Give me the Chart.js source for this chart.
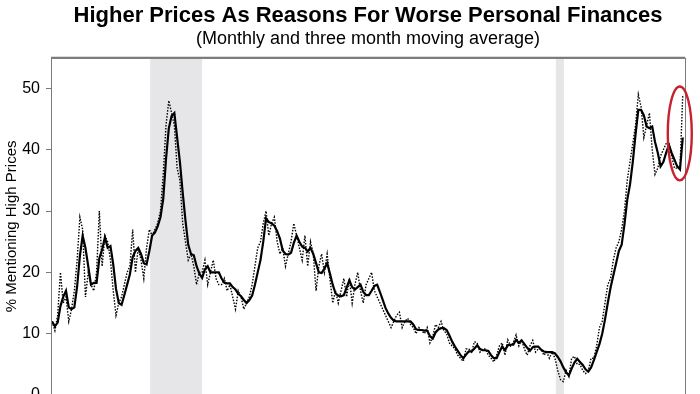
<!DOCTYPE html>
<html>
<head>
<meta charset="utf-8">
<script src="https://cdn.jsdelivr.net/npm/chart.js@4.4.0/dist/chart.umd.min.js"></script>
<style>
  html, body { margin: 0; padding: 0; background: #fff; overflow: hidden; }
  #wrap { width: 700px; height: 420px; }
</style>
</head>
<body>
<div id="wrap"><canvas id="chart" width="700" height="420"></canvas></div>
<script>
// months counted from the start of the survey window (index 0 = first month)
const monthly = [
  12, 10.5, 13, 20, 15, 16, 12, 14, 17, 22, 29, 27, 16, 20, 18, 17, 20, 30, 21, 26,
  25, 22, 17, 13, 15, 16, 18, 20, 21, 27, 20, 24, 22, 19, 24, 27, 26, 27,
  28, 30, 36, 44, 48, 46, 44, 37, 35, 28, 25, 22, 23, 21, 18, 20, 20, 22, 18, 20,
  22, 19, 18, 18, 19, 17, 18, 16, 14, 17, 16, 14, 15, 16, 18, 21, 24,
  25, 28, 30, 26, 28, 29, 25, 23, 24, 21, 23, 25, 28, 26, 24, 22, 26, 21, 25, 23,
  17, 21, 23, 20, 23, 19, 15, 17, 15, 17, 19, 16, 19, 15, 18, 20, 17, 15, 18, 19,
  20, 17, 16, 15, 14, 13, 12, 11, 12,
  13, 13.5, 11, 12, 12.5, 11.5, 11, 10, 11, 10.5, 10, 11, 8.5, 9.5, 11.5, 11, 12, 10.5,
  10, 8.5, 8, 7.5, 6.5, 6, 5.5, 7.5, 7.5, 7, 8.7, 8.5, 7, 7.5, 7.5, 6.5, 6, 5.4,
  6.5, 8, 8.5, 6.5, 9, 8, 8.5, 9.8, 8, 9, 7.5, 6.5, 8, 8.9, 7, 7.5, 7.5, 6.5,
  7, 6, 7, 6, 4, 2.5, 2.2, 4, 3, 6, 6.3, 5, 5, 4, 3.5, 4, 6,
  6, 8, 11, 12, 15, 18, 19, 22, 24, 25, 27, 30, 35, 38, 41, 44, 49, 47, 42, 44,
  46, 40, 36, 37, 39, 40, 41, 41, 39, 37, 37, 37, 49
];

const movingAvg = [
  12, 11.2, 11.8, 14.5, 16, 17, 14.3, 14, 14.3, 17.7, 22.7, 26, 24, 21, 18, 18.3, 18.3, 22.3, 23.7, 25.7,
  24, 24.3, 21.3, 17.3, 15, 14.7, 16.3, 18, 19.7, 22.5, 23.5, 24, 23, 21.5, 21.3, 23.5, 26, 26.5,
  27.5, 29, 32, 38.5, 43.5, 45.5, 46, 42, 38, 33, 28.5, 24.5, 23, 22.8, 21, 19.8, 19.1, 20.5,
  21, 20, 20, 20, 20, 19, 18.3, 18.2, 18.2, 17.6, 17.2, 16.5, 16.1, 15.5, 15, 15.5, 16.2, 18, 20,
  22, 25, 28.8, 28.2, 28, 27.6, 26.7, 25.5, 23.6, 23, 22.9, 23.2, 24.8, 26, 25, 24.2, 24, 23.4, 24, 23,
  21.5, 20, 19.9, 20.6, 21.5, 19.8, 18, 16.6, 16.2, 16.1, 16.3, 17.5, 18.7, 17.6, 17.2, 17.6, 18, 16.8,
  16.3, 16.3, 17, 17.8, 18, 16.8, 15.5, 14.2, 13.3, 12.6, 12.1,
  12, 12, 12, 12, 12, 12, 11.5, 10.7, 10.6, 10.6, 10.5, 10.5, 9.6, 9.2, 10.2, 10.7, 10.9, 10.9,
  10.6, 9.7, 8.7, 7.9, 7.2, 6.5, 6, 6.6, 7.1, 7.1, 7.6, 8.1, 7.5, 7.3, 7.3, 7.2, 6.5, 6,
  6, 7, 7.9, 7.3, 8.1, 8.2, 8.2, 9, 8.5, 8.9, 8.3, 7.7, 7.2, 7.8, 7.9, 7.9, 7.4, 7.1,
  7, 7, 7, 6.8, 6.2, 5.5, 4.5, 3.7, 3.2, 4.3, 5.3, 5.9, 5.4, 4.9, 4.2, 3.8, 4.5,
  5.7, 7, 8.3, 10, 12.3, 15, 17.5, 19.5, 21.5, 23.5, 24.5, 27.8, 31.8, 34.3, 38, 42.5, 46.5, 46.5, 45.6, 43.8,
  43.5, 43.8, 41.3, 39.5, 37.3, 38, 39.5, 40.8, 39.5, 38.4, 37.3, 36.8, 42
];

// recession periods, in month indices
const recessions = [[35.3, 54], [181.3, 184.2]];
const yTicks = [0, 10, 20, 30, 40, 50];

Chart.defaults.font.family = "'Liberation Sans', Arial, sans-serif";
Chart.defaults.color = '#000';

const toPoints = arr => arr.map((v, i) => ({ x: i, y: v }));

const recessionBands = {
  id: 'recessionBands',
  beforeDatasetsDraw(chart) {
    const { ctx, chartArea, scales } = chart;
    ctx.save();
    ctx.fillStyle = '#e6e6e8';
    recessions.forEach(([a, b]) => {
      const x1 = scales.x.getPixelForValue(a);
      const x2 = scales.x.getPixelForValue(b);
      ctx.fillRect(x1, chartArea.top, x2 - x1, chartArea.bottom - chartArea.top);
    });
    ctx.restore();
  }
};

const frame = {
  id: 'frame',
  afterDraw(chart) {
    const { ctx, chartArea } = chart;
    ctx.save();
    ctx.strokeStyle = '#7a7a7a';
    ctx.lineWidth = 1;
    ctx.strokeRect(chartArea.left + 0.5, chartArea.top + 0.5,
      chartArea.right - chartArea.left, chartArea.bottom - chartArea.top);
    ctx.lineWidth = 2;
    ctx.beginPath();
    ctx.moveTo(chartArea.left, chartArea.top);
    ctx.lineTo(chartArea.right, chartArea.top);
    ctx.stroke();
    ctx.restore();
  }
};

// red ring round the latest readings
const ring = {
  id: 'ring',
  afterDraw(chart) {
    const { ctx, scales } = chart;
    const last = monthly.length - 1;
    const cx = scales.x.getPixelForValue(last) - 3;
    const yHi = scales.y.getPixelForValue(50);
    const yLo = scales.y.getPixelForValue(35);
    ctx.save();
    ctx.strokeStyle = '#c8202f';
    ctx.lineWidth = 2.4;
    ctx.beginPath();
    ctx.ellipse(cx, (yHi + yLo) / 2 - 1, 12, (yLo - yHi) / 2 + 1, 0, 0, Math.PI * 2);
    ctx.stroke();
    ctx.restore();
  }
};

new Chart(document.getElementById('chart'), {
  type: 'line',
  data: {
    datasets: [
      {
        label: 'Monthly',
        data: toPoints(monthly),
        borderColor: '#000',
        borderWidth: 1.4,
        borderDash: [1.5, 1.5],
        pointRadius: 0,
        tension: 0
      },
      {
        label: 'Three month moving average',
        data: toPoints(movingAvg),
        borderColor: '#000',
        borderWidth: 2.2,
        pointRadius: 0,
        tension: 0
      }
    ]
  },
  options: {
    responsive: false,
    animation: false,
    devicePixelRatio: 1,
    layout: { padding: { top: 0, right: 15, bottom: 25, left: 0 } },
    plugins: {
      legend: { display: false },
      tooltip: { enabled: false },
      title: {
        display: true,
        text: 'Higher Prices As Reasons For Worse Personal Finances',
        fullSize: false,
        font: { size: 22, weight: 'bold', lineHeight: 1.1 },
        padding: { top: 4, bottom: 0 }
      },
      subtitle: {
        display: true,
        text: '(Monthly and three month moving average)',
        fullSize: false,
        font: { size: 18, lineHeight: 1.2 },
        padding: { top: 0, bottom: 8 }
      }
    },
    scales: {
      x: {
        type: 'linear',
        min: -0.4,
        max: 227.8,
        display: false
      },
      y: {
        min: 0,
        max: 55,
        afterBuildTicks(axis) {
          axis.ticks = yTicks.map(v => ({ value: v }));
        },
        afterFit(axis) {
          axis.width = 51;
        },
        ticks: { font: { size: 16 }, color: '#000', padding: 6 },
        grid: { drawOnChartArea: false, drawTicks: true, tickLength: 5, color: '#7a7a7a' },
        border: { display: true, color: '#7a7a7a' },
        title: {
          display: true,
          text: '% Mentioning High Prices',
          font: { size: 15 },
          padding: { top: 3, bottom: 0 }
        }
      }
    }
  },
  plugins: [recessionBands, frame, ring]
});
</script>
</body>
</html>
